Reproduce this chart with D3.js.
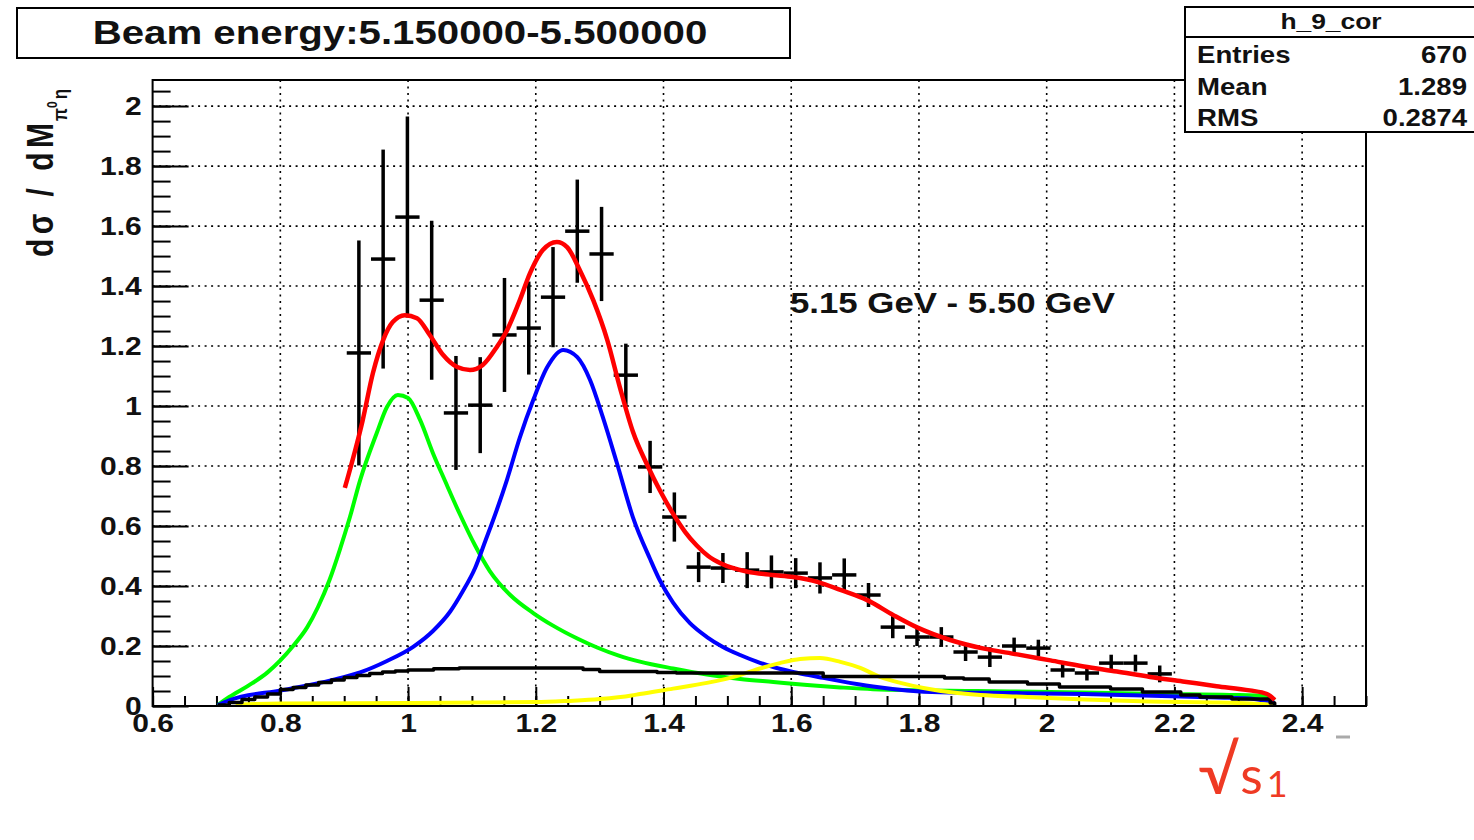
<!DOCTYPE html>
<html>
<head>
<meta charset="utf-8">
<script src="https://cdn.jsdelivr.net/npm/d3@7"></script>
<style>
  html, body { margin: 0; padding: 0; background: #fff; }
  svg { display: block; }
  text { font-family: "Liberation Sans", Arial, Helvetica, sans-serif; }
</style>
</head>
<body>
<svg id="chart" width="1474" height="840"></svg>
<script>
// ---------------- data ----------------
const titleText = "Beam energy:5.150000-5.500000";
const statsTitle = "h_9_cor";
const statsLabels = ["Entries", "Mean", "RMS"];
const statsValues = ["670", "1.289", "0.2874"];
const annotationText = "5.15 GeV - 5.50 GeV";

const xTickLabels = [0.6, 0.8, 1.0, 1.2, 1.4, 1.6, 1.8, 2.0, 2.2, 2.4];
const yTickLabels = [0, 0.2, 0.4, 0.6, 0.8, 1.0, 1.2, 1.4, 1.6, 1.8, 2.0];

// histogram (bin width 0.038)
const binHalfWidth = 0.019;
const binCenters = [0.923, 0.961, 0.999, 1.037, 1.075, 1.113, 1.151, 1.189, 1.227, 1.265,
  1.303, 1.341, 1.379, 1.417, 1.455, 1.493, 1.531, 1.569, 1.607, 1.645,
  1.683, 1.721, 1.759, 1.797, 1.835, 1.873, 1.911, 1.949, 1.987, 2.025,
  2.063, 2.101, 2.139, 2.177];
const binValues = [1.177, 1.49, 1.63, 1.353, 0.977, 1.003, 1.237, 1.26, 1.363, 1.583,
  1.507, 1.103, 0.797, 0.63, 0.463, 0.46, 0.453, 0.447, 0.443, 0.427,
  0.437, 0.37, 0.263, 0.23, 0.23, 0.18, 0.163, 0.2, 0.193, 0.12,
  0.11, 0.143, 0.143, 0.107];
const binErrors = [0.375, 0.365, 0.335, 0.265, 0.19, 0.16, 0.19, 0.155, 0.167, 0.172,
  0.157, 0.105, 0.087, 0.082, 0.05, 0.05, 0.06, 0.055, 0.05, 0.052,
  0.055, 0.04, 0.037, 0.03, 0.033, 0.03, 0.033, 0.028, 0.028, 0.025,
  0.025, 0.028, 0.028, 0.028];

// fitted curves [x, y]
const totalFit = [[0.901,0.727],[0.929,0.953],[0.945,1.11],[0.961,1.22],[0.976,1.28],[0.995,1.303],
  [1.014,1.293],[1.034,1.237],[1.055,1.17],[1.077,1.13],[1.097,1.12],[1.117,1.137],[1.139,1.197],
  [1.155,1.253],[1.175,1.353],[1.191,1.443],[1.211,1.52],[1.233,1.547],[1.249,1.53],[1.269,1.453],
  [1.290,1.353],[1.312,1.22],[1.332,1.06],[1.352,0.915],[1.376,0.797],[1.394,0.72],[1.413,0.648],
  [1.434,0.58],[1.452,0.535],[1.470,0.5],[1.490,0.475],[1.531,0.448],[1.570,0.437],[1.603,0.43],
  [1.642,0.413],[1.677,0.387],[1.719,0.353],[1.760,0.303],[1.797,0.262],[1.849,0.22],[1.900,0.192],
  [1.954,0.172],[2.006,0.152],[2.058,0.132],[2.110,0.115],[2.162,0.097],[2.213,0.082],[2.266,0.066],
  [2.318,0.052],[2.345,0.04],[2.357,0.02]];
const greenPeak = [[0.702,0.003],[0.72,0.03],[0.75,0.068],[0.78,0.112],[0.80,0.152],[0.82,0.2],
  [0.842,0.262],[0.859,0.33],[0.877,0.42],[0.893,0.52],[0.909,0.63],[0.925,0.753],[0.951,0.91],
  [0.967,0.997],[0.984,1.037],[1.000,1.027],[1.019,0.953],[1.039,0.843],[1.058,0.75],[1.081,0.64],
  [1.105,0.535],[1.128,0.45],[1.160,0.37],[1.196,0.31],[1.227,0.268],[1.265,0.225],[1.296,0.195],
  [1.330,0.168],[1.363,0.148],[1.415,0.125],[1.468,0.105],[1.520,0.09],[1.572,0.08],[1.625,0.07],
  [1.677,0.062],[1.728,0.056],[1.891,0.05],[2.006,0.047],[2.099,0.043],[2.189,0.04],[2.287,0.037],
  [2.347,0.033],[2.357,0.02]];
const bluePeak = [[0.702,0.003],[0.721,0.02],[0.804,0.053],[0.882,0.087],[0.925,0.112],[0.967,0.15],
  [1.008,0.197],[1.039,0.25],[1.066,0.315],[1.085,0.38],[1.105,0.46],[1.121,0.55],[1.140,0.66],
  [1.155,0.755],[1.175,0.895],[1.196,1.02],[1.218,1.13],[1.243,1.187],[1.265,1.163],[1.285,1.087],
  [1.305,0.963],[1.327,0.81],[1.352,0.63],[1.379,0.49],[1.394,0.42],[1.415,0.345],[1.441,0.277],
  [1.468,0.23],[1.493,0.197],[1.520,0.17],[1.546,0.148],[1.572,0.13],[1.598,0.116],[1.625,0.104],
  [1.650,0.094],[1.677,0.083],[1.728,0.065],[1.781,0.052],[1.833,0.046],[1.954,0.043],[2.058,0.04],
  [2.136,0.036],[2.266,0.028],[2.318,0.025],[2.357,0.01]];
const yellowPeak = [[0.73,0.005],[0.80,0.008],[1.0,0.01],[1.2,0.013],[1.25,0.017],[1.30,0.023],
  [1.35,0.035],[1.363,0.04],[1.415,0.058],[1.468,0.077],[1.520,0.103],[1.551,0.125],[1.582,0.143],
  [1.614,0.157],[1.645,0.16],[1.677,0.147],[1.708,0.127],[1.739,0.097],[1.771,0.077],[1.807,0.06],
  [1.860,0.043],[1.896,0.037],[1.970,0.03],[2.06,0.022],[2.16,0.015],[2.26,0.012],[2.32,0.008],
  [2.357,0.003]];
const blackBackground = [[0.702,0.003],[0.72,0.012],[0.74,0.022],[0.76,0.03],[0.78,0.04],[0.80,0.055],
  [0.82,0.062],[0.84,0.07],[0.86,0.078],[0.88,0.087],[0.90,0.095],[0.92,0.102],[0.94,0.108],
  [0.96,0.113],[0.98,0.117],[1.0,0.12],[1.04,0.124],[1.08,0.127],[1.274,0.122],[1.30,0.115],
  [1.39,0.112],[1.42,0.11],[1.65,0.098],[1.84,0.093],[1.87,0.09],[1.91,0.08],[1.97,0.073],
  [2.02,0.063],[2.10,0.057],[2.15,0.047],[2.21,0.037],[2.24,0.03],[2.29,0.023],[2.35,0.01],
  [2.357,0.003]];

// ---------------- layout ----------------
const frame = { left: 152.6, right: 1366, top: 80, bottom: 706 };
const STRETCH = 1.2; // the reference is horizontally stretched
const FONT = '"Liberation Sans", Arial, Helvetica, sans-serif';

const svg = d3.select("#chart");
svg.append("rect").attr("width", 1474).attr("height", 840).attr("fill", "#fff");

const x = d3.scaleLinear().domain([0.6, 2.5]).range([frame.left, frame.right]);
const y = d3.scaleLinear().domain([0, 2.087]).range([frame.bottom, frame.top]);

// grid
const grid = svg.append("g").attr("stroke", "#000").attr("stroke-width", 1.6)
  .attr("stroke-dasharray", "2,4.5");
grid.selectAll("line.gx").data(xTickLabels.filter(d => d > 0.6)).join("line")
  .attr("x1", d => x(d)).attr("x2", d => x(d)).attr("y1", frame.top).attr("y2", frame.bottom);
grid.selectAll("line.gy").data(yTickLabels.filter(d => d > 0)).join("line")
  .attr("x1", frame.left).attr("x2", frame.right).attr("y1", d => y(d)).attr("y2", d => y(d));

// axes
const fmt = d => String(+d.toFixed(1));
const xMinor = d3.range(0.6, 2.5001, 0.05);
const yMinor = d3.range(0, 2.0801, 0.05);

const gxMinor = svg.append("g").attr("transform", `translate(0,${frame.bottom})`)
  .call(d3.axisBottom(x).tickValues(xMinor).tickSize(-10).tickFormat(""));
const gxMajor = svg.append("g").attr("transform", `translate(0,${frame.bottom})`)
  .call(d3.axisBottom(x).tickValues(xTickLabels).tickSize(-19).tickFormat(fmt));
const gyMinor = svg.append("g").attr("transform", `translate(${frame.left},0)`)
  .call(d3.axisLeft(y).tickValues(yMinor).tickSize(-18).tickFormat(""));
const gyMajor = svg.append("g").attr("transform", `translate(${frame.left},0)`)
  .call(d3.axisLeft(y).tickValues(yTickLabels).tickSize(-36).tickFormat(fmt));

[gxMinor, gxMajor, gyMinor, gyMajor].forEach(g => {
  g.select(".domain").remove();
  g.selectAll(".tick line").attr("stroke", "#000").attr("stroke-width", 2);
});
gxMajor.selectAll(".tick text")
  .attr("y", 8).attr("dy", "0.71em")
  .attr("transform", `scale(${STRETCH},1)`)
  .style("font-family", FONT).style("font-weight", "bold").style("font-size", "25px").attr("fill", "#111");
gyMajor.selectAll(".tick text")
  .attr("x", -9).attr("dy", "0.34em")
  .attr("transform", `scale(${STRETCH},1)`)
  .style("font-family", FONT).style("font-weight", "bold").style("font-size", "25px").attr("fill", "#111");

// data points (error crosses)
const pts = svg.append("g").attr("stroke", "#000").attr("stroke-width", 3.5);
binCenters.forEach((c, i) => {
  const v = binValues[i], e = binErrors[i];
  pts.append("line").attr("x1", x(c)).attr("x2", x(c)).attr("y1", y(v - e)).attr("y2", y(v + e));
  pts.append("line").attr("x1", x(c - binHalfWidth)).attr("x2", x(c + binHalfWidth))
    .attr("y1", y(v)).attr("y2", y(v));
});

// curves
const smooth = d3.line().x(d => x(d[0])).y(d => y(d[1])).curve(d3.curveMonotoneX);
const stepped = d3.line().x(d => x(d[0])).y(d => y(d[1])).curve(d3.curveStepAfter);
const drawCurve = (data, gen, color, w) =>
  svg.append("path").datum(data).attr("d", gen).attr("fill", "none")
    .attr("stroke", color).attr("stroke-width", w).attr("stroke-linejoin", "round");
drawCurve(greenPeak, smooth, "#00ff00", 4);
drawCurve(bluePeak, smooth, "#0000ff", 4);
drawCurve(yellowPeak, smooth, "#ffff00", 4);
drawCurve(blackBackground, stepped, "#000", 3.5);
drawCurve(totalFit, smooth, "#ff0000", 4.5);

// frame
svg.append("rect").attr("x", frame.left).attr("y", frame.top)
  .attr("width", frame.right - frame.left).attr("height", frame.bottom - frame.top)
  .attr("fill", "none").attr("stroke", "#000").attr("stroke-width", 2);

// helper for stretched text
function stretchedText(px, py, str, size, anchor) {
  return svg.append("text")
    .attr("transform", `translate(${px},${py}) scale(${STRETCH},1)`)
    .attr("text-anchor", anchor || "start")
    .style("font-family", FONT).style("font-weight", "bold").style("font-size", size + "px")
    .attr("fill", "#111").text(str);
}

// title box
svg.append("rect").attr("x", 17).attr("y", 8).attr("width", 773).attr("height", 50)
  .attr("fill", "#fff").attr("stroke", "#000").attr("stroke-width", 2);
stretchedText(400, 44, titleText, 33.5, "middle");

// stats box
svg.append("rect").attr("x", 1185).attr("y", 7).attr("width", 300).attr("height", 125)
  .attr("fill", "#fff").attr("stroke", "#000").attr("stroke-width", 2);
svg.append("line").attr("x1", 1185).attr("x2", 1485).attr("y1", 37).attr("y2", 37)
  .attr("stroke", "#000").attr("stroke-width", 2);
stretchedText(1331, 29, statsTitle, 22, "middle");
const rowY = [63, 95, 126];
statsLabels.forEach((s, i) => stretchedText(1197, rowY[i], s, 23, "start"));
statsValues.forEach((s, i) => stretchedText(1467, rowY[i], s, 23, "end"));

// annotation
stretchedText(790, 313, annotationText, 29, "start");

// y axis title
svg.append("text")
  .attr("transform", `translate(53,257) scale(${STRETCH},1) rotate(-90)`)
  .attr("textLength", 134).attr("lengthAdjust", "spacing")
  .style("font-family", FONT).style("font-weight", "bold").style("font-size", "30px")
  .attr("fill", "#111").text("dσ / dM");
const sub = svg.append("text")
  .attr("transform", `translate(67,121) scale(${STRETCH},1) rotate(-90)`)
  .style("font-family", FONT).style("font-weight", "bold").style("font-size", "17px")
  .attr("fill", "#111");
sub.append("tspan").text("π");
sub.append("tspan").attr("dy", -8).style("font-size", "12px").text("0");
sub.append("tspan").attr("dy", 8).attr("dx", 2).text("η");

// sqrt(s1) annotation
const sq = svg.append("text").attr("x", 1198).attr("y", 794)
  .style("font-family", "Lato, 'Open Sans', sans-serif").attr("fill", "#ef3a24");
sq.append("tspan").style("font-size", "66px").text("√");
sq.append("tspan").style("font-size", "52px").attr("dx", 1).text("s");
sq.append("tspan").style("font-size", "36px").attr("dy", 3).attr("dx", 4).text("1");

// small grey dash at lower right
svg.append("line").attr("x1", 1336).attr("x2", 1350).attr("y1", 737).attr("y2", 737)
  .attr("stroke", "#aaa").attr("stroke-width", 3);
</script>
</body>
</html>
